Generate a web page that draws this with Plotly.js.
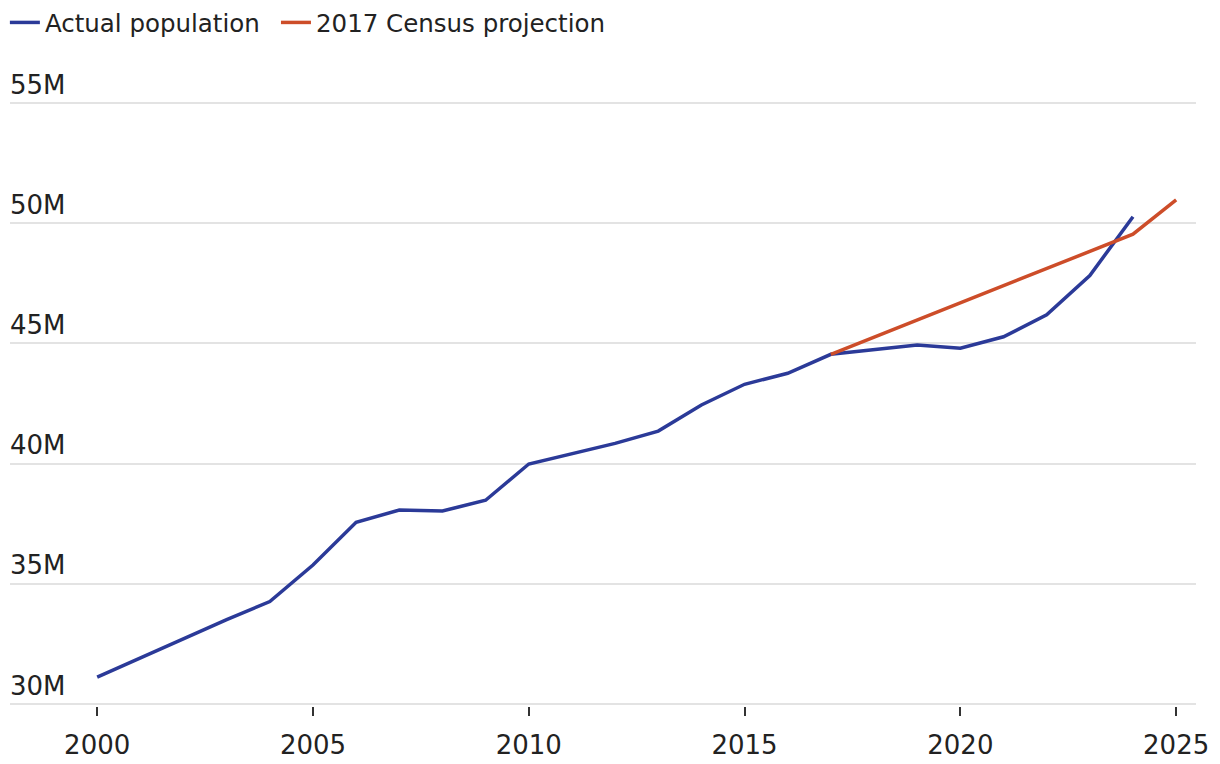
<!DOCTYPE html>
<html>
<head>
<meta charset="utf-8">
<script src="https://cdn.plot.ly/plotly-3.0.1.min.js"></script>
<style>html,body{margin:0;padding:0;background:#fff;}#chart{width:1220px;height:764px;}</style>
</head>
<body>
<div id="chart"></div>
<script>
// Years and population in millions
const actualYears = [2000, 2001, 2002, 2003, 2004, 2005, 2006, 2007, 2008, 2009, 2010, 2011, 2012, 2013, 2014, 2015, 2016, 2017, 2018, 2019, 2020, 2021, 2022, 2023, 2024];
const actualPop = [31.1, 31.9, 32.7, 33.5, 34.25, 35.77, 37.55, 38.06, 38.02, 38.47, 39.98, 40.4, 40.84, 41.35, 42.44, 43.3, 43.76, 44.55, 44.75, 44.94, 44.8, 45.28, 46.19, 47.83, 50.28];
const projYears = [2017, 2024, 2025];
const projPop = [44.55, 49.55, 50.98];
const yTickVals = [30, 35, 40, 45, 50, 55];
const yTickText = ['30M', '35M', '40M', '45M', '50M', '55M'];
const xTickVals = [2000, 2005, 2010, 2015, 2020, 2025];
const seriesNames = ['Actual population', '2017 Census projection'];

const FONT = 'DejaVu Sans, sans-serif';
const legendFont = {family: FONT, size: 24.5, color: '#222'};
const data = [
  {x: actualYears, y: actualPop, type: 'scatter', mode: 'lines', name: seriesNames[0],
   line: {color: '#2b3a98', width: 3.5}, hoverinfo: 'x+y', legend: 'legend'},
  {x: projYears, y: projPop, type: 'scatter', mode: 'lines', name: seriesNames[1],
   line: {color: '#cd4d29', width: 3.5}, hoverinfo: 'x+y', legend: 'legend2'}
];
const layout = {
  width: 1220, height: 764,
  margin: {l: 10, r: 24, t: 101.1, b: 58.1},
  paper_bgcolor: '#fff', plot_bgcolor: '#fff',
  font: {family: FONT, color: '#222', size: 26},
  showlegend: true,
  legend: {orientation: 'h', xref: 'container', yref: 'container', x: 0.004, y: 1, yanchor: 'top', xanchor: 'left',
           font: legendFont, itemwidth: 30},
  legend2: {orientation: 'h', xref: 'container', yref: 'container', x: 0.2262, y: 1, yanchor: 'top', xanchor: 'left',
           font: legendFont, itemwidth: 30},
  xaxis: {range: [1997.98, 2025.46], tickvals: xTickVals, ticktext: xTickVals.map(String),
          showgrid: false, zeroline: false, showline: false,
          ticks: 'outside', ticklen: 9, tickwidth: 2, tickcolor: '#333',
          ticklabelstandoff: 7,
          tickfont: {family: FONT, size: 26, color: '#222'}, fixedrange: true},
  yaxis: {range: [29.9, 55.1], tickvals: yTickVals, ticktext: yTickText,
          showgrid: true, gridcolor: '#e3e3e3', gridwidth: 2, zeroline: false, showline: false,
          ticks: '', ticklabelposition: 'inside top', ticklabeloverflow: 'allow', ticklabelstandoff: -3,
          tickfont: {family: FONT, size: 26, color: '#222'}, fixedrange: true}
};
Plotly.newPlot('chart', data, layout, {displayModeBar: false, staticPlot: true});
</script>
</body>
</html>
